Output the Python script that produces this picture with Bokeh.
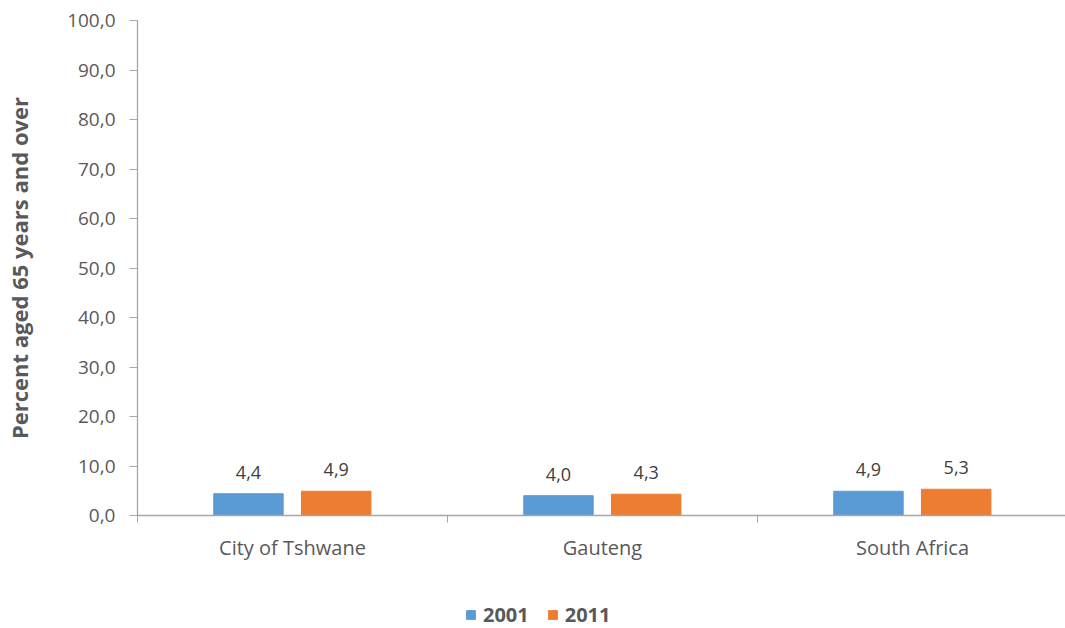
from bokeh.plotting import figure
from bokeh.layouts import column
from bokeh.models import Range1d, FixedTicker, Legend, LegendItem, ColumnDataSource
from bokeh.core.properties import value
from bokeh.embed import file_html
from bokeh.resources import INLINE

categories = ["City of Tshwane", "Gauteng", "South Africa"]
years = ["2001", "2011"]
values_2001 = [4.4, 4.0, 4.9]
values_2011 = [4.9, 4.3, 5.3]
y_ticks = [0, 10, 20, 30, 40, 50, 60, 70, 80, 90, 100]

FONT = "Open Sans"
TXT = "#595959"
AXIS = "#A6A6A6"
colors = ["#5B9BD5", "#ED7D31"]

def fmt(v):
    return f"{v:.1f}".replace(".", ",")

p = figure(width=1065, height=590, output_backend="svg", toolbar_location=None,
           x_range=Range1d(0, 928 / 310), y_range=Range1d(0, 100),
           min_border_left=137, min_border_right=0, min_border_top=20, min_border_bottom=75)
p.outline_line_color = None
p.grid.grid_line_color = None
p.background_fill_color = "white"

centers = [i + 0.5 for i in range(len(categories))]
offsets = [-0.142, 0.141]
bw = 0.224
sources = []
for k, (vals, col) in enumerate(zip([values_2001, values_2011], colors)):
    xs = [c + offsets[k] for c in centers]
    src = ColumnDataSource(dict(x=xs, top=vals, lab=[fmt(v) for v in vals]))
    sources.append(src)
    p.vbar(x="x", top="top", bottom=0, width=bw, color=col, source=src)
    p.text(x="x", y="top", text="lab", source=src, text_align="center", text_baseline="bottom",
           y_offset=-15, text_font=value(FONT), text_font_size="18px", text_color="#404040")

# x axis
xa = p.xaxis[0]
xa.ticker = FixedTicker(ticks=centers, minor_ticks=[0, 1, 2, 3])
xa.major_label_overrides = {c: n for c, n in zip(centers, categories)}
xa.major_tick_out = 0
xa.major_tick_in = 0
xa.minor_tick_out = 7
xa.minor_tick_in = 0
xa.minor_tick_line_color = AXIS
xa.axis_line_color = AXIS
xa.axis_line_width = 1.3
xa.major_label_standoff = 11
xa.major_label_text_font = FONT
xa.major_label_text_font_size = "20px"
xa.major_label_text_color = TXT

# y axis
ya = p.yaxis[0]
ya.ticker = FixedTicker(ticks=y_ticks)
ya.major_label_overrides = {t: fmt(t) for t in y_ticks}
ya.minor_tick_line_color = None
ya.major_tick_out = 8
ya.major_tick_in = 0
ya.major_tick_line_color = AXIS
ya.axis_line_color = AXIS
ya.axis_line_width = 1.3
ya.major_label_standoff = 14
ya.major_label_text_font = FONT
ya.major_label_text_font_size = "19px"
ya.major_label_text_color = TXT
ya.axis_label = "Percent aged 65 years and over"
ya.axis_label_text_font = FONT
ya.axis_label_text_font_size = "22px"
ya.axis_label_text_font_style = "bold"
ya.axis_label_text_color = TXT
ya.axis_label_standoff = 30

# legend strip below the chart (same series, drawn out of view; only the legend shows)
lg = figure(width=1065, height=38, output_backend="svg", toolbar_location=None,
            x_axis_location=None, y_axis_location=None,
            x_range=Range1d(0, 928 / 310), y_range=Range1d(500, 501),
            min_border_left=137, min_border_right=0, min_border_top=0, min_border_bottom=0)
lg.outline_line_color = None
lg.grid.grid_line_color = None
items = []
for yr, col, src in zip(years, colors, sources):
    r = lg.vbar(x="x", top="top", bottom=0, width=bw, color=col, source=src)
    items.append(LegendItem(label=yr, renderers=[r]))
legend = Legend(items=items, orientation="horizontal", location=(328, 0),
                glyph_width=11, glyph_height=11, label_standoff=7, spacing=18,
                padding=0, margin=0, border_line_color=None, background_fill_alpha=0,
                label_text_font=FONT, label_text_font_size="20px", label_text_font_style="bold",
                label_text_color=TXT)
lg.add_layout(legend, "center")

layout = column(p, lg, spacing=0)
open("out.html", "w").write(file_html(layout, INLINE))
